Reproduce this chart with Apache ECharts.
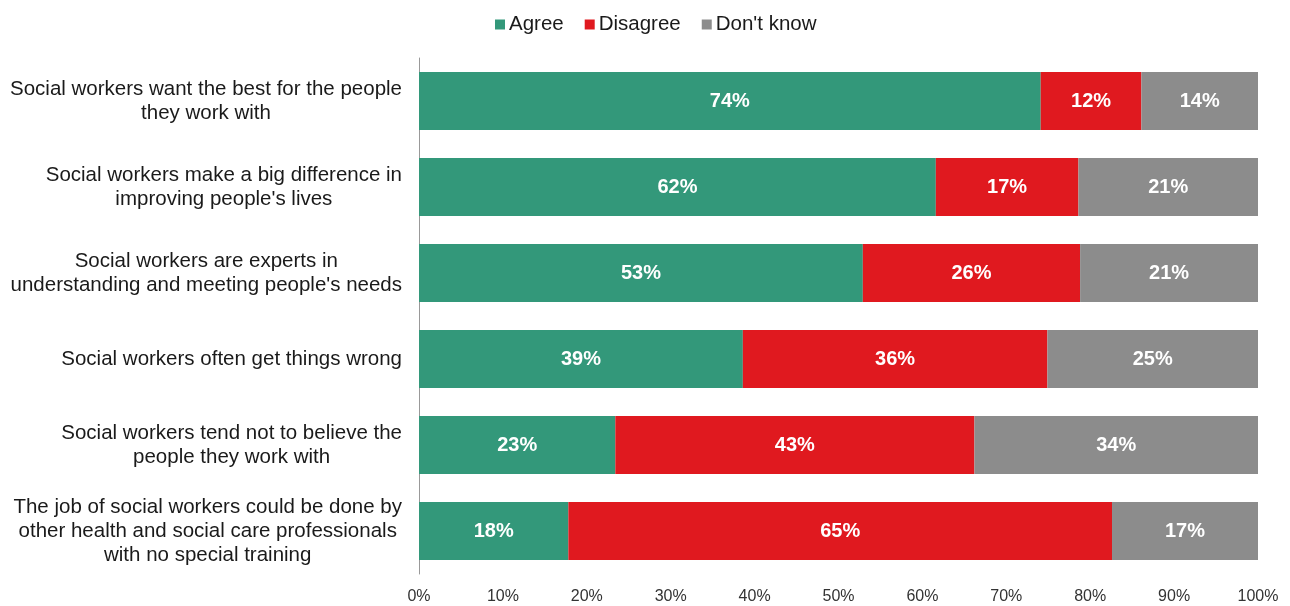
<!DOCTYPE html>
<html>
<head>
<meta charset="utf-8">
<script src="https://cdn.jsdelivr.net/npm/echarts@6/dist/echarts.min.js"></script>
<style>
  html, body { margin: 0; padding: 0; background: #fff; }
  #chart { width: 1290px; height: 606px; }
</style>
</head>
<body>
<div id="chart"></div>
<script>
const categories = [
  "Social workers want the best for the people\nthey work with",
  "Social workers make a big difference in\nimproving people's lives",
  "Social workers are experts in\nunderstanding and meeting people's needs",
  "Social workers often get things wrong",
  "Social workers tend not to believe the\npeople they work with",
  "The job of social workers could be done by\nother health and social care professionals\nwith no special training"
];
const agree = [74.1, 61.6, 52.9, 38.6, 23.4, 17.8];
const disagree = [12.0, 17.0, 25.9, 36.3, 42.8, 64.8];
const dontKnow = [13.9, 21.4, 21.2, 25.1, 33.8, 17.4];
const seriesNames = ["Agree", "Disagree", "Don't know"];
const colors = ["#33987A", "#E0191F", "#8C8C8C"];

const chart = echarts.init(document.getElementById('chart'));

function makeSeries(name, data, color) {
  return {
    name: name,
    type: 'bar',
    stack: 'total',
    barWidth: 58,
    data: data,
    itemStyle: { color: color },
    label: {
      show: true,
      position: 'inside',
      color: '#fff',
      fontFamily: 'Liberation Sans, Arial, sans-serif',
      fontWeight: 'bold',
      fontSize: 20,
      formatter: p => Math.round(p.value) + '%'
    }
  };
}

const option = {
  animation: false,
  textStyle: { fontFamily: 'Liberation Sans, Arial, sans-serif' },
  legend: {
    top: 9,
    left: 490,
    itemWidth: 10,
    itemHeight: 10,
    itemGap: 21,
    icon: 'rect',
    textStyle: { fontSize: 20.5, color: '#1a1a1a', padding: [0, 0, 0, -1] },
    data: seriesNames
  },
  grid: { left: 419, right: 32, top: 58, bottom: 32 },
  xAxis: {
    type: 'value',
    min: 0,
    max: 100,
    interval: 10,
    axisLine: { show: false },
    axisTick: { show: false },
    splitLine: { show: false },
    axisLabel: {
      formatter: '{value}%',
      fontSize: 16,
      color: '#333',
      margin: 15
    }
  },
  yAxis: {
    type: 'category',
    inverse: true,
    data: categories,
    axisLine: { show: true, lineStyle: { color: '#999', width: 1 } },
    axisTick: { show: false },
    axisLabel: {
      margin: 17,
      align: 'right',
      formatter: v => v.split('\n').map(l => '{c|' + l + '}').join('\n'),
      rich: {
        c: { align: 'center', fontSize: 20.5, lineHeight: 24, color: '#1a1a1a' }
      }
    }
  },
  series: [
    makeSeries(seriesNames[0], agree, colors[0]),
    makeSeries(seriesNames[1], disagree, colors[1]),
    makeSeries(seriesNames[2], dontKnow, colors[2])
  ]
};

chart.setOption(option);
</script>
</body>
</html>
